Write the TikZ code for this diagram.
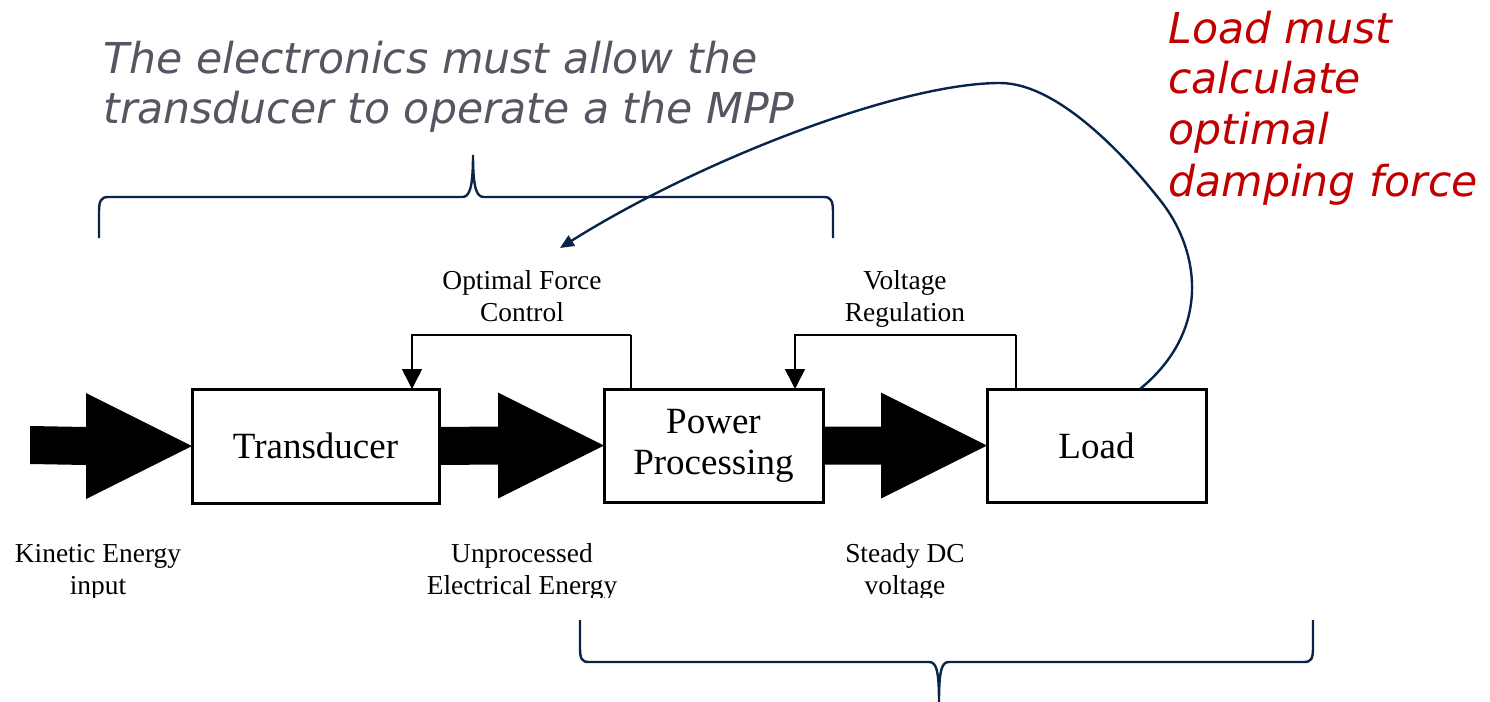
\documentclass[tikz,border=0pt]{standalone}
\usepackage{fontspec}
\setmainfont{Liberation Serif}
\newfontfamily\dvfont{DejaVu Sans}[ItalicFont={DejaVu Sans Oblique}]
\usetikzlibrary{arrows.meta,calc}
\definecolor{navy}{RGB}{8,36,72}
\definecolor{grayt}{RGB}{84,87,98}
\definecolor{redt}{RGB}{192,0,0}
\newcommand\blkarrow[2]{\fill ($(#1)+(0,-19)$) -- ($(#2)+(-106,-19)$) -- ($(#2)+(-106,-53)$) -- (#2) -- ($(#2)+(-106,53)$) -- ($(#2)+(-106,19)$) -- ($(#1)+(0,19)$) -- cycle;}
\begin{document}
\begin{tikzpicture}[x=0.5pt,y=-0.5pt,
  box/.style={draw=black,line width=1.5pt,fill=white,inner sep=0pt,outer sep=0pt,font=\fontsize{18.5}{20.5}\selectfont,align=center},
  lbl/.style={font=\fontsize{13.7}{16}\selectfont,inner sep=0pt,anchor=base},
  fb/.style={line width=0.8pt,-{Triangle[length=10pt,width=10pt]}},
  fbup/.style={line width=1.3pt},
  brace/.style={draw=navy,line width=1.2pt},
  note/.style={font=\dvfont\itshape\fontsize{21.3}{25}\selectfont,inner sep=0pt,anchor=base west},
]
\useasboundingbox (0,0) rectangle (1490,702);

% blocks
\node[box,minimum width=123.5pt,minimum height=57pt] (trans) at (315.5,446) {Transducer};
\node[box,minimum width=109.5pt,minimum height=56.5pt] (pp) at (713.5,445.5) {Power\\Processing};
\node[box,minimum width=109.5pt,minimum height=56.5pt] (load) at (1096.5,445.5) {Load};

% block arrows
\coordinate (kin) at (30,445);
\blkarrow{kin}{trans.west}
\blkarrow{trans.east}{pp.west}
\blkarrow{pp.east}{load.west}

% feedback loops
\coordinate (f1s) at ($(pp.north west)+(27,0)$);
\coordinate (f1c) at ($(f1s)+(0,-54)$);
\coordinate (f1e) at ($(trans.north west)+(220,0)$);
\draw[fbup] (f1s) -- (f1c);
\draw[fb] (f1c) -| (f1e);
\coordinate (f2s) at ($(load.north west)+(29,0)$);
\coordinate (f2c) at ($(f2s)+(0,-54)$);
\coordinate (f2e) at ($(pp.north west)+(191,0)$);
\draw[fbup] (f2s) -- (f2c);
\draw[fb] (f2c) -| (f2e);

% labels
\node[lbl] (ofc1) at (522,289) {Optimal Force};
\node[lbl] (ofc2) at (522,321) {Control};
\node[lbl] (vr1) at (905,289) {Voltage};
\node[lbl] (vr2) at (905,321) {Regulation};
\begin{scope}
\clip (0,0) rectangle (1490,597);
\node[lbl] (ke1) at (98,562) {Kinetic Energy};
\node[lbl] (ke2) at (98,594) {input};
\node[lbl] (ue1) at (522,562) {Unprocessed};
\node[lbl] (ue2) at (522,594) {Electrical Energy};
\node[lbl] (sd1) at (905,562) {Steady DC};
\node[lbl] (sd2) at (905,594) {voltage};
\end{scope}

% braces
\draw[brace] (99,238) -- (99,212) .. controls (99,201) and (101,197) .. (108,197) -- (462,197) .. controls (469,197) and (473,190) .. (473,155) .. controls (473,190) and (477,197) .. (484,197) -- (824,197) .. controls (831,197) and (833,201) .. (833,212) -- (833,238);
\draw[brace] (580,620) -- (580,648) .. controls (580,659) and (582,662) .. (589,662) -- (929,662) .. controls (936,662) and (939,669) .. (939,702) .. controls (939,669) and (942,662) .. (949,662) -- (1304,662) .. controls (1311,662) and (1313,659) .. (1313,648) -- (1313,620);

% notes
\node[note,text=grayt] (e1) at (103,73) {The electronics must allow the};
\node[note,text=grayt] (e2) at (103,123) {transducer to operate a the MPP};
\node[note,text=redt] (r1) at (1168,43) {Load must};
\node[note,text=redt] (r2) at (1168,93) {calculate};
\node[note,text=redt] (r3) at (1168,144) {optimal};
\node[note,text=redt] (r4) at (1168,196) {damping force};

% curved arrow from load
\coordinate (ls) at ($(load.north west)+(153,0)$);
\coordinate (tgt) at (560,248);
\draw[navy,line width=1.2pt,-{Triangle[length=7pt,width=6pt]}] (ls) .. controls (1212,330) and (1200,250) .. (1160,200) .. controls (1130,162) and (1060,83) .. (1000,83) .. controls (900,83) and (700,160) .. (tgt);
\end{tikzpicture}
\end{document}
